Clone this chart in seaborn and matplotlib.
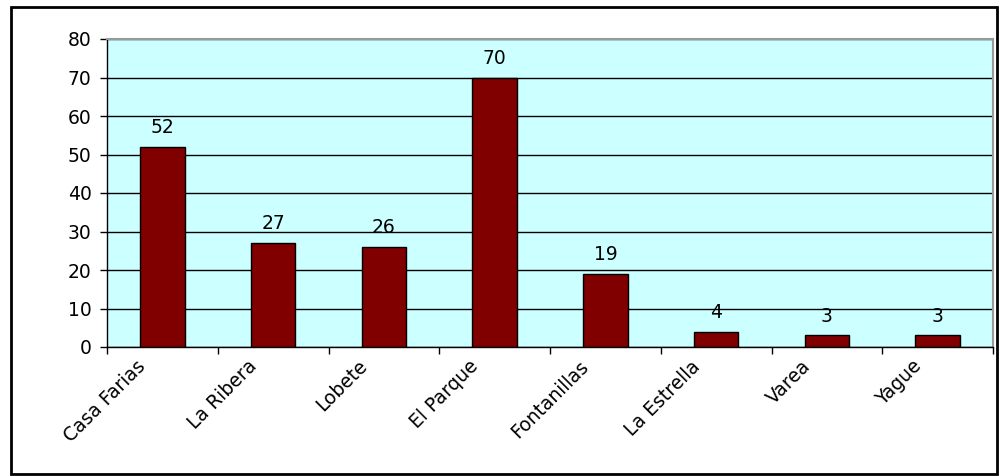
import numpy as np
import pandas as pd
import matplotlib
matplotlib.use('Agg')
import matplotlib.pyplot as plt
import matplotlib.transforms as mtransforms
import seaborn as sns
from matplotlib.patches import Rectangle

barrios = ['Casa Farias', 'La Ribera', 'Lobete', 'El Parque', 'Fontanillas', 'La Estrella', 'Varea', 'Yague']
valores = [52, 27, 26, 70, 19, 4, 3, 3]
y_ticks = [0, 10, 20, 30, 40, 50, 60, 70, 80]

df = pd.DataFrame({'barrio': barrios, 'valor': valores})

sns.set_style('white')
plt.rcParams['font.family'] = ['DejaVu Sans']
fs = 13.5

fig = plt.figure(figsize=(10, 4.76), dpi=100)
ax = fig.add_axes([0.107, 1 - 347/476, 0.886, (347 - 39)/476])
ax.set_facecolor('#CCFFFF')

sns.barplot(data=df, x='barrio', y='valor', color='#800000', width=0.4,
            edgecolor='black', linewidth=1, saturation=1, ax=ax)

ax.set_xlim(-0.5, len(barrios) - 0.5)
ax.set_ylim(0, 80)
ax.set_yticks(y_ticks)
ax.set_yticklabels([str(t) for t in y_ticks], fontsize=fs, color='black')
ax.yaxis.grid(True, color='black', linewidth=1)
ax.set_axisbelow(True)

# ticks between categories, labels at the centers
ax.set_xticks(np.arange(-0.5, len(barrios), 1.0))
ax.set_xticklabels([])
ax.set_xticks(np.arange(len(barrios)), minor=True)
ax.set_xticklabels(barrios, minor=True, rotation=45, ha='right', va='top',
                   rotation_mode='anchor', fontsize=fs, color='black')
ax.tick_params(axis='x', which='major', length=5, width=1, color='black', direction='out', bottom=True)
ax.tick_params(axis='x', which='minor', length=0, pad=7)
ax.tick_params(axis='y', length=5, width=1, color='black', direction='out', left=True, pad=6)
ax.set_xlabel('')
ax.set_ylabel('')

shift = mtransforms.ScaledTranslation(-0.26, 0, fig.dpi_scale_trans)
for lab in ax.get_xticklabels(minor=True):
    lab.set_transform(lab.get_transform() + shift)

for s in ['left', 'bottom']:
    ax.spines[s].set_color('black')
    ax.spines[s].set_linewidth(1)
for s in ['top', 'right']:
    ax.spines[s].set_visible(True)
    ax.spines[s].set_color('#999999')
    ax.spines[s].set_linewidth(1.5)

for i, v in enumerate(valores):
    ax.annotate(str(v), (i, v), xytext=(0, 7), textcoords='offset points',
                ha='center', va='bottom', fontsize=fs, color='black')

fig.patches.append(Rectangle((11/1000, 1 - 474/476), 986/1000, 467/476,
                             transform=fig.transFigure, fill=False,
                             edgecolor='black', linewidth=2))

fig.savefig('out.png', dpi=100)
